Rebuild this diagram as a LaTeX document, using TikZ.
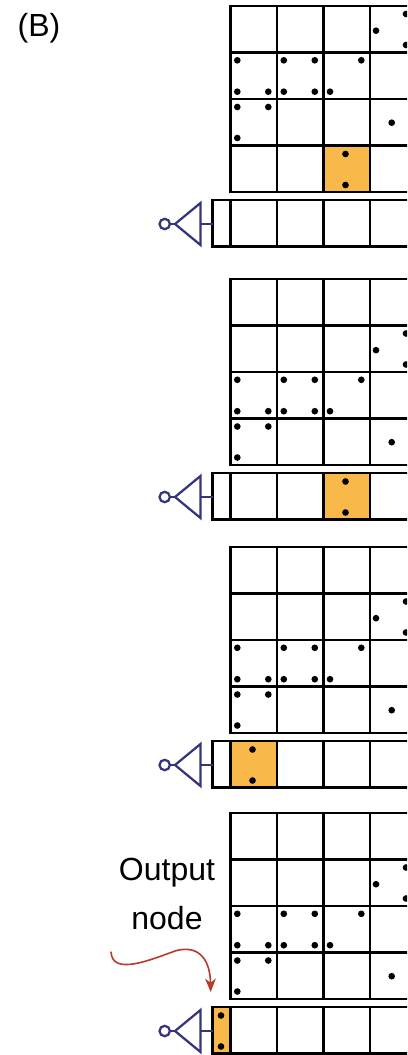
\documentclass[tikz,border=0pt]{standalone}
\usepackage{fontspec}
\setmainfont{Liberation Sans}
\usetikzlibrary{arrows.meta}
\definecolor{ampblue}{HTML}{35357F}
\definecolor{hitorange}{HTML}{F9B94A}
\definecolor{curvered}{HTML}{B83A2A}
\tikzset{
  gridline/.style={line width=1.9pt,black,line cap=rect},
  ampline/.style={line width=1.7pt,ampblue},
  pip/.style={fill=black},
  label/.style={inner sep=0pt,font=\fontsize{24}{28}\selectfont},
}

\begin{document}
\begin{tikzpicture}[x=0.75pt,y=-0.75pt]
\useasboundingbox (0,0) rectangle (407,1055);
\clip (0,0) rectangle (407,1055);
\node[label] (B) at (39,28) {(B)};
\node[label] (Out) at (167,873) {Output};
\node[label] (Nd) at (167,918) {node};
\foreach \ty/\sft/\xa/\xb/\ya/\dx in {6/0/323.5/370/139.5/345.5,279/46.5/323.5/370/194/345.5,547/46.5/230.5/277/194/252.5,813/46.5/212.5/230.5/194/221}{
\begin{scope}[shift={(0,\ty)}]
\fill[hitorange] (\xa,\ya) rectangle (\xb,{\ya+46.5});
\foreach \k in {0,...,4}{\draw[gridline] (230.5,{46.5*\k}) -- (420,{46.5*\k});}
\foreach \k in {0,...,3}{\draw[gridline] ({230.5+46.5*\k},0) -- ({230.5+46.5*\k},186);}
\draw[gridline] (212.5,194) -- (420,194);
\draw[gridline] (212.5,240.5) -- (420,240.5);
\draw[gridline] (212.5,194) -- (212.5,240.5);
\foreach \k in {0,...,3}{\draw[gridline] ({230.5+46.5*\k},194) -- ({230.5+46.5*\k},240.5);}
\foreach \x/\y in {376/24.7,406/8,406/39,237.3/54.3,237.3/85.7,268.3/85.7,283.8/54.3,283.8/85.7,314.8/54.3,314.8/85.7,361.3/54.3,330/85.7,237.3/101,268.3/101,237.3/132,391.7/116.7}{
\fill[pip] (\x,{\y+\sft}) circle (2.5pt);
}
\fill[pip] (\dx,{\ya+8.5}) circle (2.5pt);
\fill[pip] (\dx,{\ya+39.5}) circle (2.5pt);
\coordinate (Ring) at (164.7,218);
\coordinate (Tip) at (175,218);
\coordinate (Top) at (200.5,197);
\coordinate (Bot) at (200.5,239);
\coordinate (Base) at (200.5,218);
\coordinate (Cell) at (212.5,218);
\draw[ampline,line join=miter] (Top)--(Tip)--(Bot)--cycle;
\draw[ampline] (Base)--(Cell);
\draw[ampline] (Ring)++(4.5,0)--(Tip);
\draw[ampline] (Ring) circle (3.9pt);
\end{scope}
}
\coordinate (Start) at (111,951.7);
\coordinate (End) at (210.7,992);
\draw[curvered,line width=1.2pt,-{Stealth[length=10pt,width=8pt,inset=3pt]}] (Start) .. controls (112,976) and (150,960) .. (175,951) .. controls (195,945) and (210,955) .. (End);
\end{tikzpicture}
\end{document}
